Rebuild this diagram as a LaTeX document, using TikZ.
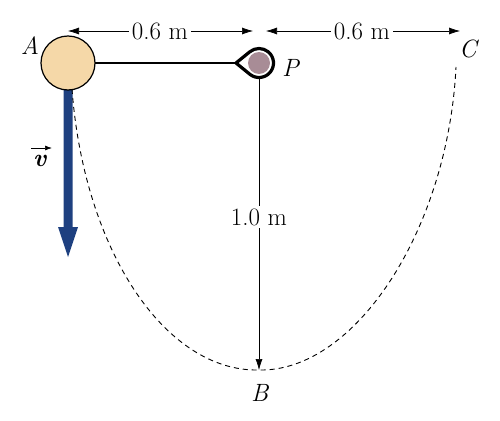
\documentclass[tikz,border=0pt]{standalone}
\usepackage{fontspec}
\usetikzlibrary{arrows.meta}
\definecolor{ballA}{RGB}{245,216,168}
\definecolor{ballP}{RGB}{168,140,150}
\definecolor{vblue}{RGB}{30,64,128}
\begin{document}
\begin{tikzpicture}[x=1pt,y=-1pt,
  lbl/.style={font=\fontsize{25}{30}\selectfont, inner sep=1pt},
  dim/.style={line width=0.6pt, -{Latex[length=11pt,width=7pt]}},
  dimtext/.style={lbl, fill=white, inner sep=3pt}]
\useasboundingbox (0,0) rectangle (500,420);
% coordinates
\coordinate (Ac) at (68,63);
\coordinate (Pc) at (259,63);
\coordinate (Bp) at (259,370);
\coordinate (Cp) at (456,67);
\coordinate (Astart) at (72,89);
% velocity arrow
\fill[vblue] (63.5,89) -- (72.5,89) -- (72.5,227) -- (78,227) -- (68,257) -- (58,227) -- (63.5,227) -- cycle;
\coordinate (vtip) at (68,257);
% dashed path
\draw[dashed, line width=0.9pt, dash pattern=on 5pt off 4pt]
  (Astart) .. controls (84,250) and (165,372) .. (Bp)
  .. controls (355,372) and (448,230) .. (Cp);
% vertical dimension
\draw[line width=0.6pt, -{Latex[length=11pt,width=7pt]}] (259,77) -- (Bp);
\node[dimtext] (len) at (259,217) {1.0 m};
% rod
\draw[line width=2.6pt] (Ac) -- (238,63);
\coordinate (loopTip) at (236,63);
\draw[line width=3.2pt, line join=round, fill=white]
  (loopTip) -- ([shift={(259,63)}]129:14.5) arc[start angle=129, end angle=-129, radius=14.5] -- cycle;
% ball A
\node[circle, draw, line width=1.2pt, fill=ballA, minimum size=54pt, inner sep=0pt] (A) at (Ac) {};
% ball P
\node[circle, fill=ballP, minimum size=22pt, inner sep=0pt] (P) at (Pc) {};
% labels
\node[lbl] (Alab) at (30,46) {\textit{A}};
\node[lbl] (Plab) at (291,68) {\textit{P}};
\node[lbl] (Blab) at (260,393) {\textit{B}};
\node[lbl] (Clab) at (469,49) {\textit{C}};
% velocity label
\node[lbl] (vlab) at (40,161) {\textbf{\textit{v}}};
\draw[line width=0.7pt, -{Latex[length=7pt,width=5pt]}] (31,148) -- (52,148);
% top dimensions
\coordinate (d1l) at (68,31);
\coordinate (d1r) at (253,31);
\coordinate (d2l) at (266,31);
\coordinate (d2r) at (460,31);
\node[dimtext] (t1) at (160,31) {0.6 m};
\node[dimtext] (t2) at (362,31) {0.6 m};
\draw[dim] (t1.west) -- (d1l);
\draw[dim] (t1.east) -- (d1r);
\draw[dim] (t2.west) -- (d2l);
\draw[dim] (t2.east) -- (d2r);
\end{tikzpicture}
\end{document}
